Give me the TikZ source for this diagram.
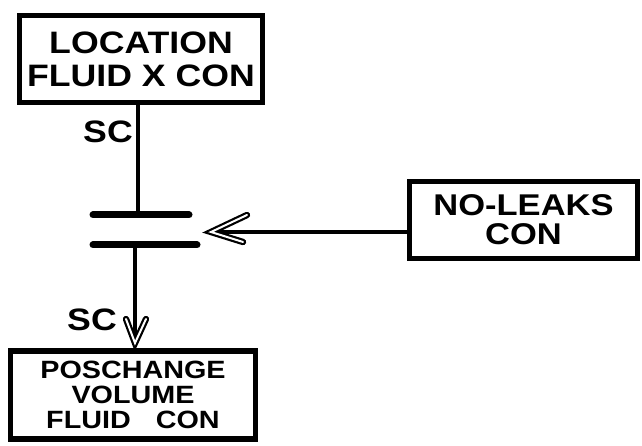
\documentclass[tikz,border=0pt]{standalone}
\usepackage{fontspec}
\newfontfamily\hand{Liberation Sans}[FakeStretch=1.15]
\begin{document}
\begin{tikzpicture}[x=1pt,y=-1pt,
  box/.style={draw, line width=5.5pt, inner sep=0pt, align=center},
  wire/.style={line width=4.5pt},
  plate/.style={line width=7pt, line cap=round},
  chev/.style={double=white, double distance=2pt, line width=2.2pt, line join=miter, line cap=round},
  lbl/.style={inner sep=0pt, font=\hand\bfseries\fontsize{31}{31}\selectfont}
]
\useasboundingbox (0,0) rectangle (642,446);
\fill[white] (0,0) rectangle (642,446);

% condition boxes
\node[box, minimum width=243pt, minimum height=87pt,
  font=\hand\bfseries\fontsize{31}{33}\selectfont] (loc) at (141,59)
  {LOCATION\\FLUID X CON};
\node[box, minimum width=228pt, minimum height=77pt,
  font=\hand\bfseries\fontsize{30}{29}\selectfont] (leak) at (523.5,220)
  {NO-LEAKS\\CON};
\node[box, minimum width=245pt, minimum height=88pt,
  font=\hand\bfseries\fontsize{25}{25}\selectfont] (pos) at (133,395)
  {POSCHANGE\\VOLUME\\FLUID\quad CON};

% capacitor plates
\coordinate (pa) at (93,215);
\coordinate (pb) at (189,215);
\coordinate (qa) at (93,245);
\coordinate (qb) at (197,245);
\draw[plate] (pa) -- (pb);
\draw[plate] (qa) -- (qb);

% wires through the plates
\coordinate (w1) at (138,215);
\coordinate (w2) at (135,245);
\coordinate (tipb) at (135,343);
\draw[wire] (loc.south -| w1) -- (w1);
\draw[wire] (w2) -- (tipb);
\draw[chev] (tipb) ++(-9,-24) -- (tipb) -- ++(11,-24);

% side input
\coordinate (tipr) at (211,232);
\draw[wire] (leak.west |- tipr) -- (tipr);
\draw[chev] (tipr) ++(36,-17) -- (tipr) -- ++(32,10);

% labels
\node[lbl] (sc1) at (108,132) {SC};
\node[lbl] (sc2) at (92,320) {SC};
\end{tikzpicture}
\end{document}
